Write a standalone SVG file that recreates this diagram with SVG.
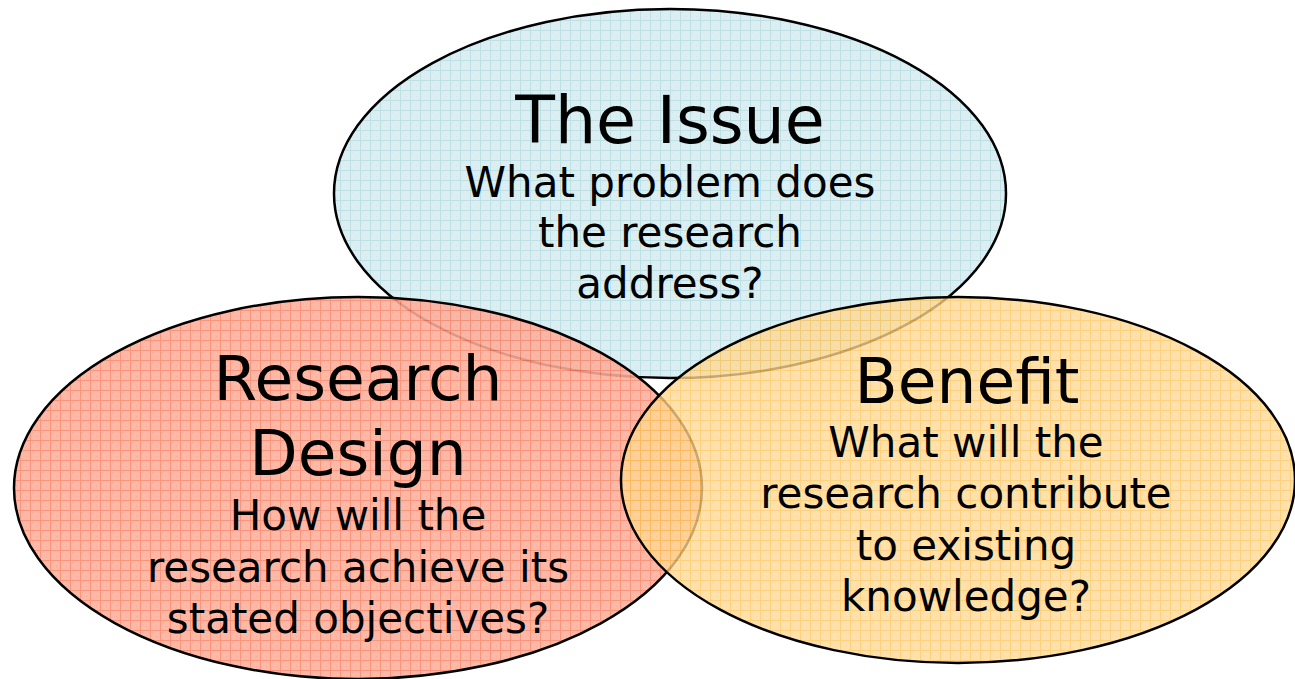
<svg xmlns="http://www.w3.org/2000/svg" width="1295" height="679" viewBox="0 0 1295 679">
<style>
.t{font-family:"DejaVu Sans","Verdana",sans-serif;fill:#000;text-anchor:middle}
.big{font-size:63px}
.sm{font-size:42px}
.edge{fill:none;stroke:#000;stroke-width:2.5}
</style>
<defs>
<pattern id="pBlue" width="10" height="10" patternUnits="userSpaceOnUse">
<rect width="10" height="10" fill="#ddeef2"/>
<rect x="2" y="2" width="1" height="1" fill="#cfe6ea"/><rect x="6" y="6" width="1" height="1" fill="#cfe6ea"/>
<rect x="0" y="0" width="10" height="1" fill="#bde0e4"/>
<rect x="0" y="0" width="1" height="10" fill="#bde0e4"/>
</pattern>
<pattern id="pRed" width="10" height="10" patternUnits="userSpaceOnUse">
<rect width="10" height="10" fill="#fcaf9c"/>
<rect x="2" y="2" width="1" height="1" fill="#f9a08a"/><rect x="6" y="6" width="1" height="1" fill="#f9a08a"/>
<rect x="0" y="0" width="10" height="1" fill="#f8866a"/>
<rect x="0" y="0" width="1" height="10" fill="#f8866a"/>
</pattern>
<pattern id="pOrange" width="10" height="10" patternUnits="userSpaceOnUse">
<rect width="10" height="10" fill="#fed896"/>
<rect x="2" y="2" width="1" height="1" fill="#fdd088"/><rect x="6" y="6" width="1" height="1" fill="#fdd088"/>
<rect x="0" y="0" width="10" height="1" fill="#fdc458"/>
<rect x="0" y="0" width="1" height="10" fill="#fdc458"/>
</pattern>
</defs>
<rect width="1295" height="679" fill="#fff"/>
<g id="issue">
<ellipse cx="670" cy="193.5" rx="336" ry="184.5" fill="url(#pBlue)"/>
<ellipse class="edge" cx="670" cy="193.5" rx="336" ry="184.5"/>
</g>
<g id="research-design">
<ellipse cx="358" cy="488" rx="344" ry="191" fill="url(#pRed)" opacity="0.88"/>
<ellipse class="edge" cx="358" cy="488" rx="344" ry="191"/>
</g>
<g id="benefit">
<ellipse cx="958" cy="480" rx="337" ry="183" fill="url(#pOrange)" opacity="0.78"/>
<ellipse class="edge" cx="958" cy="480" rx="337" ry="183"/>
</g>
<g id="connectors"></g>
<g id="labels">
<text class="t big" x="670" y="143" style="font-size:65px">The Issue</text>
<text class="t sm" x="670" y="197">What problem does</text>
<text class="t sm" x="670" y="247">the research</text>
<text class="t sm" x="670" y="298">address?</text>
<text class="t big" x="358" y="400">Research</text>
<text class="t big" x="358" y="475">Design</text>
<text class="t sm" x="358" y="530">How will the</text>
<text class="t sm" x="358" y="582">research achieve its</text>
<text class="t sm" x="358" y="633">stated objectives?</text>
<text class="t big" x="967" y="403">Benefit</text>
<text class="t sm" x="966" y="457">What will the</text>
<text class="t sm" x="966" y="508">research contribute</text>
<text class="t sm" x="966" y="560">to existing</text>
<text class="t sm" x="966" y="611">knowledge?</text>
</g>
</svg>
